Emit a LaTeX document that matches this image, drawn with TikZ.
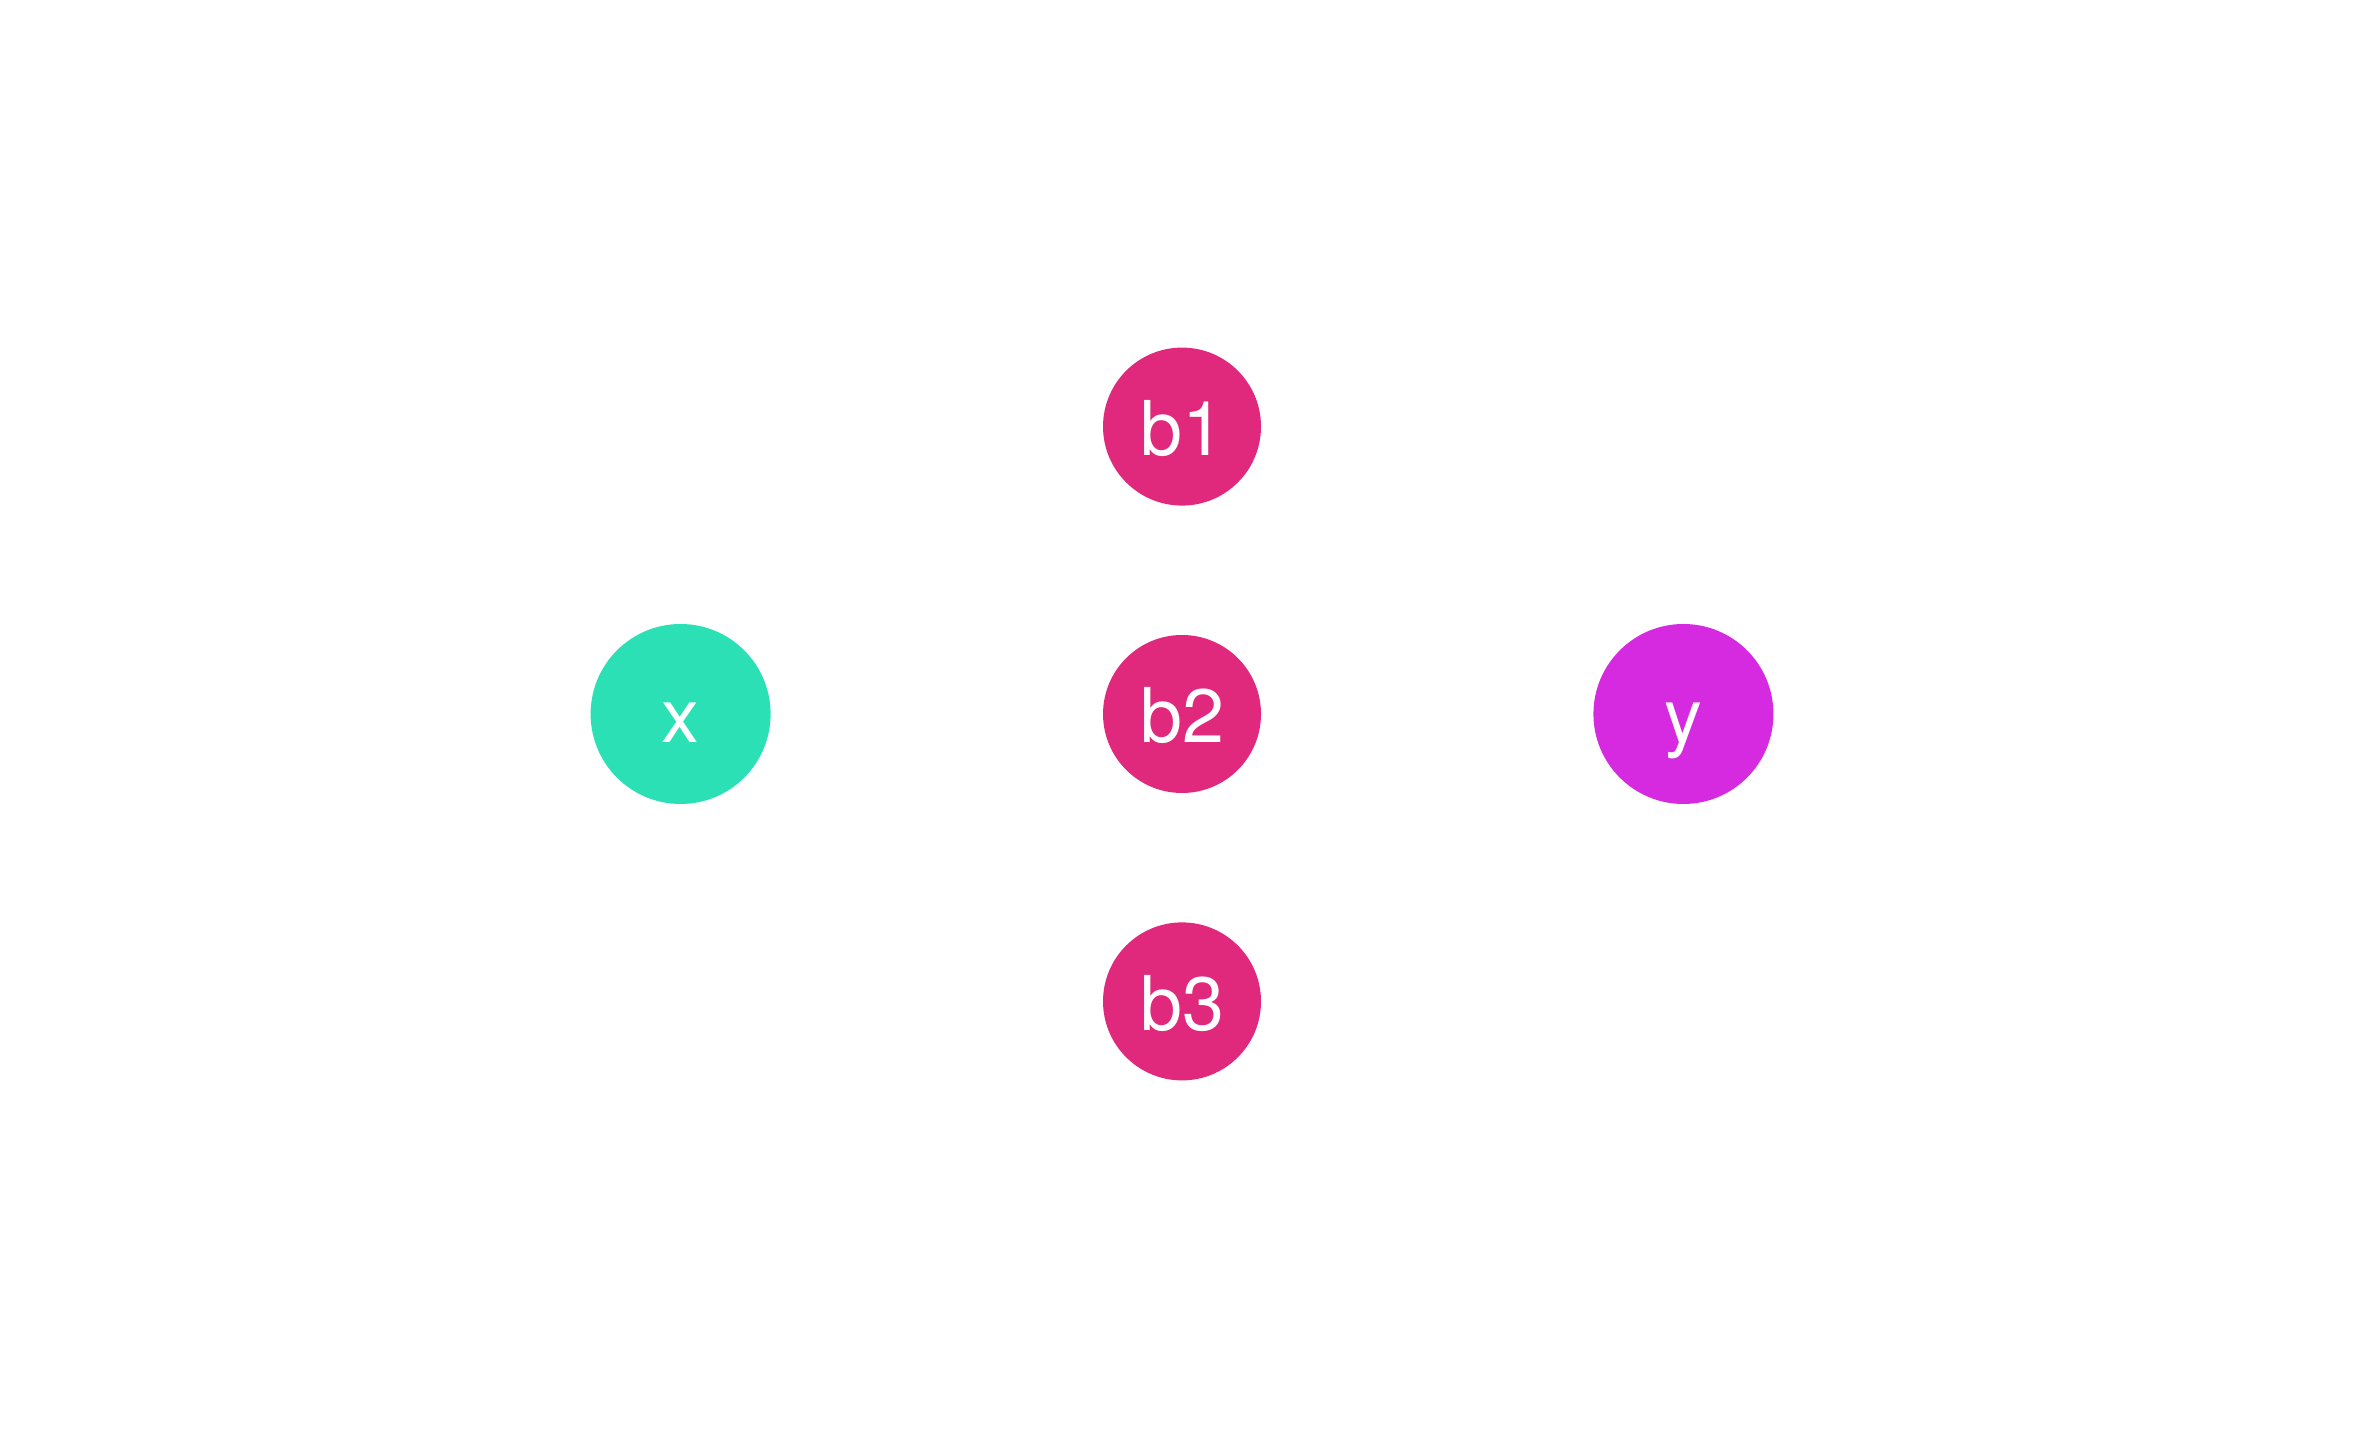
\documentclass[tikz,border=0pt]{standalone}
\usepackage{fontspec}
\setmainfont{TeX Gyre Heros}
\usetikzlibrary{positioning}

\definecolor{inputgreen}{RGB}{43,224,181}
\definecolor{hiddenpink}{RGB}{224,41,125}
\definecolor{outputviolet}{RGB}{213,42,224}

\begin{document}
\begin{tikzpicture}[node distance=1.28cm and 3.31cm,
    every node/.style={circle, inner sep=0pt, text=white,
        text height=0.58cm, text depth=0pt,
        font=\fontsize{21.5}{26}\selectfont},
    inputnode/.style={fill=inputgreen, minimum size=1.8cm},
    hiddennode/.style={fill=hiddenpink, minimum size=1.58cm},
    outputnode/.style={fill=outputviolet, minimum size=1.8cm},
    link/.style={draw=white, line width=0.6pt, -latex}
    ]

    \useasboundingbox (0,0) rectangle (23.65,14.29);

    % Hidden layer
    \node[hiddennode] (b2) at (11.82,7.15) {b2};
    \node[hiddennode, above=of b2] (b1) {b1};
    \node[hiddennode, below=of b2] (b3) {b3};

    % Input and output
    \node[inputnode, left=of b2] (x) {x};
    \node[outputnode, right=of b2] (y) {y};

    % Connections
    \foreach \b in {b1,b2,b3} {
        \draw[link] (x.east) -- (\b.west);
        \draw[link] (\b.east) -- (y.west);
    }
\end{tikzpicture}
\end{document}
